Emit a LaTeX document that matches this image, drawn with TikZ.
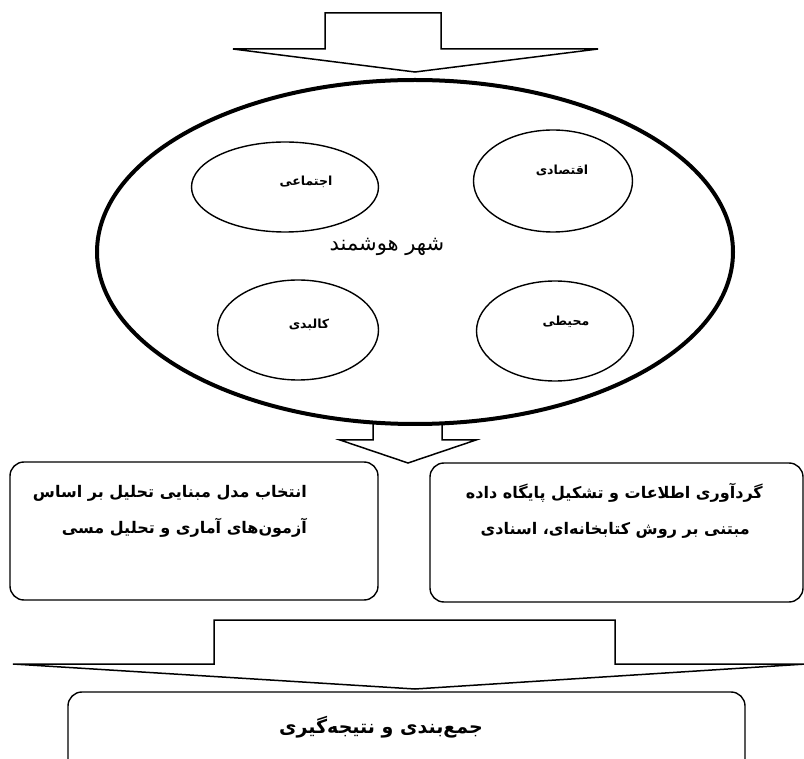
\documentclass[tikz,border=0pt]{standalone}
\usepackage{fontspec}
\newfontfamily\fa[Script=Arabic]{DejaVu Sans}
\TeXXeTstate=1
\usetikzlibrary{shapes.geometric}
\begin{document}
\begin{tikzpicture}[x=1pt,y=-1pt,
  blockarrow/.style={draw=black, line width=1.5pt, fill=white, line join=miter},
  smallell/.style={ellipse, draw=black, line width=1.4pt, inner sep=0pt},
  bigell/.style={ellipse, draw=black, line width=4pt, fill=white, inner sep=0pt},
  roundbox/.style={draw=black, line width=1.4pt, rounded corners=14pt, fill=white},
  lab/.style={font=\fa\bfseries\fontsize{12.5}{14}\selectfont, inner sep=0pt},
  boxtext/.style={font=\fa\bfseries\fontsize{16}{18}\selectfont, inner sep=0pt, anchor=east},
]
\useasboundingbox (0,0) rectangle (804,759);
\fill[white] (0,0) rectangle (804,759);

% top block arrow
\draw[blockarrow] (325,13) -- (441,13) -- (441,49) -- (598,49) -- (415,72) -- (233,49) -- (325,49) -- cycle;

% middle block arrow (shaft hidden behind ellipse at its top)
\draw[blockarrow] (373,400) -- (373,440) -- (340,440) -- (408,463) -- (476,440) -- (442,440) -- (442,400);

% big ellipse
\node[bigell, minimum width=636pt, minimum height=344pt] (city) at (415,252) {};
\node[font=\fa\fontsize{21}{24}\selectfont, inner sep=0pt] (citytxt) at (387,247) {\beginR شهر هوشمند\endR};

% small ellipses
\node[smallell, minimum width=187pt, minimum height=90pt] (soc) at (285,187) {};
\node[lab] (soctxt) at (306,182) {\beginR اجتماعی\endR};
\node[smallell, minimum width=159pt, minimum height=102pt] (eco) at (553,181) {};
\node[lab] (ecotxt) at (562,170) {\beginR اقتصادی\endR};
\node[smallell, minimum width=161pt, minimum height=100pt] (phy) at (298,330) {};
\node[lab] (phytxt) at (309,325) {\beginR کالبدی\endR};
\node[smallell, minimum width=157pt, minimum height=100pt] (env) at (555,331) {};
\node[lab] (envtxt) at (566,322) {\beginR محیطی\endR};

% boxes
\draw[roundbox] (10,462) rectangle (378,600);
\node[boxtext] (left1) at (307,493) {\beginR انتخاب مدل مبنایی تحلیل بر اساس\endR};
\node[boxtext] (left2) at (307,528) {\beginR آزمون‌های آماری و تحلیل مسی\endR};
\draw[roundbox] (430,463) rectangle (803,602);
\node[boxtext] (right1) at (763,493) {\beginR گردآوری اطلاعات و تشکیل پایگاه داده\endR};
\node[boxtext] (right2) at (750,530) {\beginR مبتنی بر روش کتابخانه‌ای، اسنادی\endR};

% bottom block arrow
\draw[blockarrow] (214,620) -- (615,620) -- (615,664) -- (806,664) -- (415,689) -- (13,664) -- (214,664) -- cycle;

% bottom box
\draw[roundbox] (68,692) rectangle (745,775);
\node[font=\fa\bfseries\fontsize{19}{22}\selectfont, inner sep=0pt] (endtxt) at (381,727) {\beginR جمع‌بندی و نتیجه‌گیری\endR};
\end{tikzpicture}
\end{document}
